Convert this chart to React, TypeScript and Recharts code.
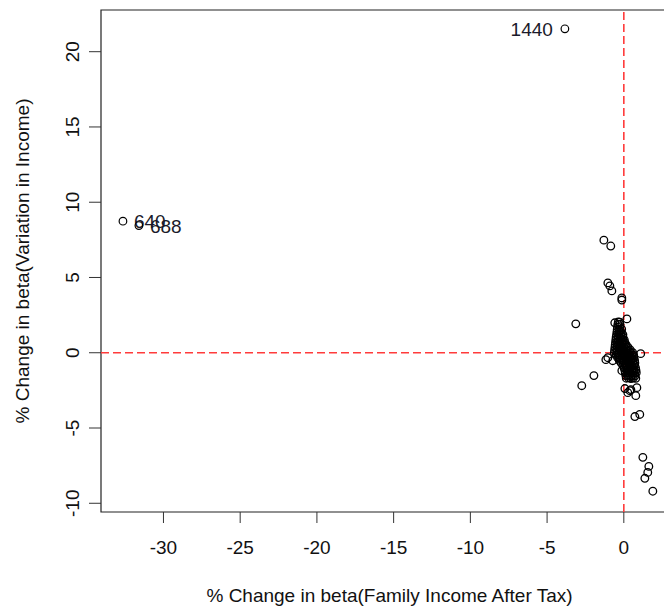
import React from 'react';
import { ScatterChart, Scatter, XAxis, YAxis, ReferenceLine, ReferenceArea, Label } from 'recharts';

const FONT = '"Liberation Sans", Arial, sans-serif';

// influential observations labelled with their row number
const labelled: [number, number, string][] = [
  [-3.84, 21.52, '1440'],
  [-32.64, 8.74, '640'],
  [-31.6, 8.45, '688'],
];

// scattered points outside the main cloud
const outliers: [number, number][] = [
  [-1.3, 7.48], [-0.85, 7.09],
  [-1.04, 4.64], [-0.91, 4.44], [-0.78, 4.11],
  [-0.13, 3.64], [-0.13, 3.5],
  [0.2, 2.25], [-3.13, 1.92], [-0.59, 1.99],
  [-1.17, -0.46], [-1.04, -0.33], [-0.72, -0.53],
  [-1.95, -1.52], [-2.74, -2.19],
  [1.1, -0.06], [-0.13, -1.19],
  [0.07, -2.38], [0.39, -2.52], [0.85, -2.32], [0.78, -2.85], [0.26, -2.65], [0.46, -2.45],
  [0.72, -4.24], [1.04, -4.1],
  [1.24, -6.95], [1.63, -7.55], [1.56, -7.95], [1.37, -8.34], [1.89, -9.2],
];

// the dense cloud around the origin
const cluster: [number, number][] = [
  [-0.36, 2.05], [-0.27, 2.03],
  [-0.39, 1.88], [-0.25, 1.9],
  [-0.41, 1.7], [-0.26, 1.73],
  [-0.43, 1.55], [-0.28, 1.52], [-0.14, 1.56],
  [-0.45, 1.37], [-0.3, 1.39], [-0.16, 1.35],
  [-0.47, 1.2], [-0.33, 1.22], [-0.18, 1.18], [-0.06, 1.21],
  [-0.5, 1.03], [-0.35, 1.05], [-0.21, 1.01], [-0.06, 1.04],
  [-0.52, 0.86], [-0.38, 0.88], [-0.22, 0.84], [-0.08, 0.87], [0.03, 0.85],
  [-0.54, 0.69], [-0.39, 0.71], [-0.25, 0.67], [-0.09, 0.7], [0.06, 0.68],
  [-0.56, 0.52], [-0.42, 0.54], [-0.26, 0.5], [-0.12, 0.53], [0.04, 0.51], [0.15, 0.54],
  [-0.58, 0.35], [-0.43, 0.37], [-0.29, 0.33], [-0.13, 0.36], [0.02, 0.34], [0.17, 0.37], [0.28, 0.35],
  [-0.6, 0.18], [-0.46, 0.2], [-0.3, 0.16], [-0.16, 0.19], [0.0, 0.17], [0.15, 0.2], [0.3, 0.16], [0.42, 0.19],
  [-0.62, 0.01], [-0.47, 0.03], [-0.33, -0.01], [-0.17, 0.02], [-0.02, 0.0], [0.13, 0.03], [0.28, -0.01], [0.43, 0.02], [0.58, 0.0],
  [-0.5, -0.16], [-0.35, -0.14], [-0.21, -0.18], [-0.05, -0.15], [0.1, -0.17], [0.25, -0.14], [0.4, -0.18], [0.55, -0.15], [0.64, -0.17],
  [-0.4, -0.33], [-0.26, -0.31], [-0.1, -0.35], [0.05, -0.32], [0.2, -0.34], [0.35, -0.31], [0.5, -0.35], [0.65, -0.32],
  [-0.3, -0.5], [-0.15, -0.48], [0.0, -0.52], [0.15, -0.49], [0.3, -0.51], [0.45, -0.48], [0.6, -0.52], [0.7, -0.5],
  [-0.18, -0.67], [-0.03, -0.65], [0.12, -0.69], [0.27, -0.66], [0.42, -0.68], [0.57, -0.65], [0.72, -0.68],
  [-0.06, -0.84], [0.09, -0.82], [0.24, -0.86], [0.39, -0.83], [0.54, -0.85], [0.69, -0.82],
  [0.02, -1.01], [0.17, -0.99], [0.32, -1.03], [0.47, -1.0], [0.62, -1.02], [0.76, -0.99],
  [0.07, -1.18], [0.22, -1.16], [0.37, -1.2], [0.52, -1.17], [0.67, -1.19], [0.79, -1.16],
  [0.1, -1.35], [0.25, -1.33], [0.4, -1.37], [0.55, -1.34], [0.7, -1.36], [0.81, -1.33],
  [0.13, -1.52], [0.28, -1.5], [0.43, -1.54], [0.58, -1.51], [0.73, -1.53],
  [0.16, -1.69], [0.31, -1.67], [0.46, -1.71], [0.61, -1.68], [0.78, -1.7],
];

const xTicks = [-30, -25, -20, -15, -10, -5, 0];
const yTicks = [-10, -5, 0, 5, 10, 15, 20];
const xDomain: [number, number] = [-34.07, 3.27];
const yDomain: [number, number] = [-10.58, 22.77];

const toPts = (rows: [number, number][]) => rows.map(([x, y]) => ({ x, y }));
const labelledPts = labelled.map(([x, y, id]) => ({ x, y, id }));
const otherPts = [...toPts(cluster), ...toPts(outliers)];

const Ring = (props: any) => (
  <circle cx={props.cx} cy={props.cy} r={3.8} fill="none" stroke="#000" strokeWidth={1.3} />
);

const LabelledRing = (props: any) => {
  const left = props.payload.id === '1440';
  return (
    <g>
      <circle cx={props.cx} cy={props.cy} r={3.8} fill="none" stroke="#000" strokeWidth={1.2} />
      <text
        x={left ? props.cx - 12 : props.cx + 11}
        y={props.cy + 7}
        textAnchor={left ? 'end' : 'start'}
        fontSize={19}
        fontFamily={FONT}
        fill="#1a1a2a"
      >
        {props.payload.id}
      </text>
    </g>
  );
};

const YTick = (props: any) => {
  const { x, y, payload } = props;
  return (
    <text
      x={x}
      y={y}
      transform={`rotate(-90 ${x} ${y})`}
      textAnchor="middle"
      fontSize={19}
      fontFamily={FONT}
      fill="#111"
    >
      {payload.value}
    </text>
  );
};

const XTitle = (props: any) => {
  const vb = props.viewBox;
  return (
    <text x={vb.x + vb.width / 2 + 2} y={vb.y + vb.height - 6} textAnchor="middle" fontSize={19} fontFamily={FONT} fill="#111">
      % Change in beta(Family Income After Tax)
    </text>
  );
};

const YTitle = (props: any) => {
  const vb = props.viewBox;
  const cy = vb.y + vb.height / 2;
  return (
    <text x={29} y={cy} transform={`rotate(-90 29 ${cy})`} textAnchor="middle" fontSize={19} fontFamily={FONT} fill="#111">
      % Change in beta(Variation in Income)
    </text>
  );
};

export default function App() {
  return (
    <div style={{ position: 'fixed', left: 0, top: 0, width: 664, height: 608, overflow: 'hidden', background: '#fff' }}>
      <ScatterChart width={684} height={608} margin={{ top: 10, right: 10, bottom: 0, left: 0 }}>
        <XAxis
          type="number"
          dataKey="x"
          domain={xDomain}
          ticks={xTicks}
          allowDataOverflow
          height={96}
          axisLine={false}
          tickSize={11}
          tickMargin={18}
          tickLine={{ stroke: '#333' }}
          tick={{ fill: '#111', fontSize: 19, fontFamily: FONT }}
        >
          <Label content={XTitle} />
        </XAxis>
        <YAxis
          type="number"
          dataKey="y"
          domain={yDomain}
          ticks={yTicks}
          allowDataOverflow
          width={101}
          axisLine={false}
          tickSize={12}
          tickMargin={10}
          tickLine={{ stroke: '#333' }}
          tick={YTick}
        >
          <Label content={YTitle} />
        </YAxis>
        <ReferenceArea x1={xDomain[0]} x2={xDomain[1]} y1={yDomain[0]} y2={yDomain[1]} fill="none" fillOpacity={0} stroke="#222" strokeWidth={1.2} />
        <Scatter data={otherPts} shape={Ring} isAnimationActive={false} />
        <Scatter data={labelledPts} shape={LabelledRing} isAnimationActive={false} />
        <ReferenceLine x={0} stroke="#ff3b3b" strokeWidth={1.6} strokeDasharray="8 4" />
        <ReferenceLine y={0} stroke="#ff3b3b" strokeWidth={1.6} strokeDasharray="8 4" />
      </ScatterChart>
    </div>
  );
}
